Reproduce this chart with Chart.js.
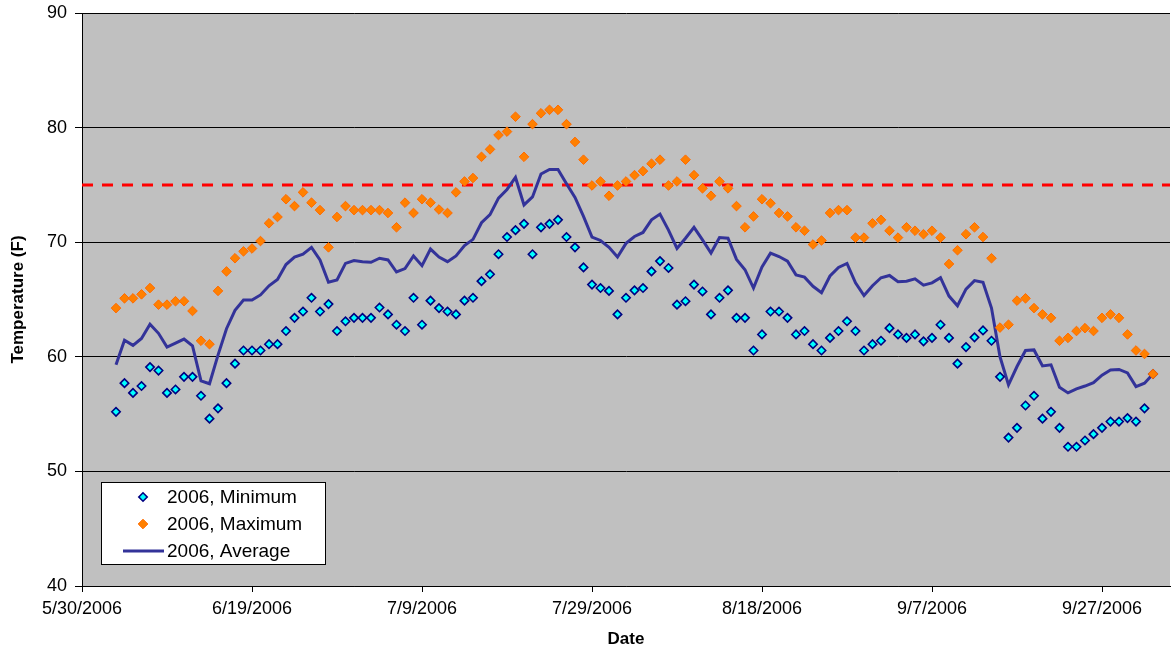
<!DOCTYPE html>
<html>
<head>
<meta charset="utf-8">
<title>Temperature 2006</title>
<script src="https://cdn.jsdelivr.net/npm/chart.js@4.4.1/dist/chart.umd.min.js"></script>
<style>
  html, body { margin: 0; padding: 0; background: #fff; }
  #wrap { width: 1172px; height: 650px; }
</style>
</head>
<body>
<div id="wrap"><canvas id="tempChart" width="1172" height="650"></canvas></div>
<script>
// x = days after 5/30/2006; one reading a day, the first one on 6/3/2006
const firstDay = 4;

const minTemps = [
    55.2, 57.7, 56.85, 57.45, 59.1, 58.8, 56.85, 57.15, 58.25, 58.25,
    56.6, 54.6, 55.5, 57.7, 59.4, 60.55, 60.55, 60.55, 61.1, 61.1,
    62.25, 63.4, 63.95, 65.15, 63.95, 64.6, 62.25, 63.1, 63.4, 63.4,
    63.4, 64.3, 63.7, 62.8, 62.25, 65.15, 62.8, 64.9, 64.25, 63.95,
    63.7, 64.9, 65.15, 66.6, 67.2, 68.95, 70.45, 71.05, 71.6, 68.95,
    71.3, 71.6, 71.95, 70.45, 69.55, 67.8, 66.3, 66.0, 65.75, 63.7,
    65.15, 65.8, 66.0, 67.45, 68.35, 67.75, 64.55, 64.85, 66.3, 65.7,
    63.7, 65.15, 65.8, 63.4, 63.4, 60.55, 61.95, 63.95, 63.95, 63.4,
    61.95, 62.25, 61.1, 60.55, 61.65, 62.25, 63.1, 62.25, 60.55, 61.1,
    61.4, 62.5, 61.95, 61.65, 61.95, 61.35, 61.65, 62.8, 61.65, 59.4,
    60.85, 61.7, 62.3, 61.4, 58.25, 52.95, 53.8, 55.75, 56.6, 54.6,
    55.2, 53.8, 52.15, 52.15, 52.7, 53.25, 53.8, 54.35, 54.35, 54.65,
    54.35, 55.5, 58.5
];

const maxTemps = [
    64.25, 65.1, 65.1, 65.45, 66.0, 64.55, 64.55, 64.85, 64.85, 64.0,
    61.4, 61.1, 65.75, 67.45, 68.6, 69.2, 69.45, 70.1, 71.65, 72.2,
    73.75, 73.15, 74.35, 73.45, 72.8, 69.55, 72.2, 73.15, 72.8, 72.8,
    72.8, 72.8, 72.55, 71.3, 73.45, 72.55, 73.75, 73.45, 72.85, 72.55,
    74.35, 75.3, 75.6, 77.45, 78.1, 79.35, 79.65, 80.95, 77.45, 80.3,
    81.25, 81.55, 81.55, 80.3, 78.75, 77.2, 74.95, 75.3, 74.05, 74.95,
    75.3, 75.85, 76.2, 76.85, 77.2, 74.95, 75.3, 77.2, 75.85, 74.7,
    74.05, 75.3, 74.7, 73.15, 71.3, 72.25, 73.75, 73.4, 72.55, 72.25,
    71.3, 71.0, 69.8, 70.15, 72.55, 72.8, 72.8, 70.4, 70.4, 71.65,
    71.95, 71.0, 70.4, 71.3, 71.0, 70.7, 71.0, 70.4, 68.1, 69.3,
    70.7, 71.3, 70.45, 68.6, 62.55, 62.8, 64.9, 65.1, 64.25, 63.7,
    63.4, 61.4, 61.65, 62.25, 62.5, 62.25, 63.4, 63.7, 63.4, 61.95,
    60.55, 60.25, 58.5
];

const avgTemps = [
    59.3, 61.45, 61.0, 61.6, 62.85, 62.05, 60.85, 61.2, 61.55, 60.95,
    57.9, 57.65, 60.15, 62.45, 64.05, 64.95, 64.95, 65.4, 66.2, 66.75,
    68.05, 68.7, 68.95, 69.55, 68.45, 66.5, 66.7, 68.15, 68.4, 68.3,
    68.25, 68.6, 68.45, 67.4, 67.7, 68.8, 67.95, 69.4, 68.7, 68.3,
    68.8, 69.7, 70.25, 71.7, 72.4, 73.85, 74.6, 75.65, 73.25, 73.95,
    75.95, 76.35, 76.35, 75.1, 73.9, 72.25, 70.45, 70.15, 69.55, 68.7,
    69.9, 70.5, 70.85, 71.95, 72.45, 71.05, 69.45, 70.35, 71.3, 70.2,
    69.05, 70.4, 70.35, 68.5, 67.6, 66.0, 67.85, 69.05, 68.75, 68.35,
    67.15, 66.95, 66.15, 65.6, 67.05, 67.8, 68.15, 66.45, 65.35, 66.2,
    66.9, 67.1, 66.55, 66.6, 66.8, 66.25, 66.45, 66.9, 65.3, 64.45,
    65.9, 66.65, 66.5, 64.25, 60.0, 57.55, 59.15, 60.55, 60.6, 59.2,
    59.3, 57.35, 56.85, 57.2, 57.45, 57.75, 58.4, 58.85, 58.9, 58.6,
    57.4, 57.7, 58.5
];

const limitTemp = 75;
const xRange = [0, 128];
const xTickDays = [0, 20, 40, 60, 80, 100, 120];
const xTickLabels = ['5/30/2006', '6/19/2006', '7/9/2006', '7/29/2006', '8/18/2006', '9/7/2006', '9/27/2006'];
const yRange = [40, 90];
const seriesNames = ['2006, Minimum', '2006, Maximum', '2006, Average'];

const FONT = "'Liberation Sans', Arial, sans-serif";

function toPoints(values) {
    return values.map((v, i) => ({ x: firstDay + i, y: v }));
}

const minStyle = { pointStyle: 'rectRot', radius: 4.2, fill: '#00FFFF', border: '#000080', borderWidth: 1.6 };
const maxStyle = { pointStyle: 'rectRot', radius: 4.8, fill: '#FF8000', border: '#FF6A00', borderWidth: 1 };
const avgColor = '#333399';

// grey plot area like the spreadsheet chart
const plotBackground = {
    id: 'plotBackground',
    beforeDraw(chart) {
        const { ctx, chartArea } = chart;
        ctx.save();
        ctx.fillStyle = '#C0C0C0';
        ctx.fillRect(chartArea.left, chartArea.top, chartArea.right - chartArea.left, chartArea.bottom - chartArea.top);
        ctx.restore();
    }
};

// legend box sitting inside the plot, bottom left
const boxLegend = {
    id: 'boxLegend',
    afterDraw(chart) {
        const { ctx, chartArea } = chart;
        const left = chartArea.left + 19;
        const top = chartArea.bottom - 104;
        ctx.save();
        ctx.fillStyle = '#FFFFFF';
        ctx.fillRect(left, top, 224, 82);
        ctx.strokeStyle = '#000000';
        ctx.lineWidth = 1;
        ctx.strokeRect(left + 0.5, top + 0.5, 224, 82);

        const rows = [top + 15, top + 42, top + 69];
        const mx = left + 42;
        [minStyle, maxStyle].forEach((s, i) => {
            ctx.fillStyle = s.fill;
            ctx.strokeStyle = s.border;
            ctx.lineWidth = s.borderWidth;
            Chart.helpers.drawPoint(ctx, { pointStyle: s.pointStyle, radius: s.radius, rotation: 0, borderWidth: s.borderWidth }, mx, rows[i]);
        });
        ctx.strokeStyle = avgColor;
        ctx.lineWidth = 3;
        ctx.beginPath();
        ctx.moveTo(left + 22, rows[2]);
        ctx.lineTo(left + 63, rows[2]);
        ctx.stroke();

        ctx.fillStyle = '#000000';
        ctx.font = '19px ' + FONT;
        ctx.textBaseline = 'middle';
        ctx.textAlign = 'left';
        seriesNames.forEach((name, i) => ctx.fillText(name, left + 66, rows[i] + 1));
        ctx.restore();
    }
};

new Chart(document.getElementById('tempChart'), {
    type: 'scatter',
    data: {
        datasets: [
            {
                label: seriesNames[1],
                data: toPoints(maxTemps),
                showLine: false,
                pointStyle: maxStyle.pointStyle,
                pointRadius: maxStyle.radius,
                backgroundColor: maxStyle.fill,
                borderColor: maxStyle.border,
                borderWidth: maxStyle.borderWidth
            },
            {
                label: seriesNames[0],
                data: toPoints(minTemps),
                showLine: false,
                pointStyle: minStyle.pointStyle,
                pointRadius: minStyle.radius,
                backgroundColor: minStyle.fill,
                borderColor: minStyle.border,
                borderWidth: minStyle.borderWidth
            },
            {
                label: seriesNames[2],
                data: toPoints(avgTemps),
                showLine: true,
                borderColor: avgColor,
                borderWidth: 3,
                pointRadius: 0,
                tension: 0
            },
            {
                label: 'limit',
                data: [{ x: xRange[0], y: limitTemp }, { x: xRange[1], y: limitTemp }],
                showLine: true,
                borderColor: '#FF0000',
                borderWidth: 3,
                borderDash: [11, 9],
                pointRadius: 0
            }
        ]
    },
    options: {
        responsive: false,
        animation: false,
        layout: { autoPadding: false, padding: { top: 13, right: 2, left: 0, bottom: 0 } },
        plugins: {
            legend: { display: false },
            tooltip: { enabled: false }
        },
        scales: {
            x: {
                type: 'linear',
                min: xRange[0],
                max: xRange[1],
                afterFit: (scale) => {
                    scale.height = 64;
                    scale.paddingLeft = 0;
                    scale.paddingRight = 0;
                },
                afterBuildTicks: (scale) => { scale.ticks = xTickDays.map(v => ({ value: v })); },
                grid: { drawOnChartArea: false, drawTicks: true, tickLength: 6, color: '#000000' },
                border: { color: '#000000', width: 1 },
                ticks: {
                    maxRotation: 0,
                    autoSkip: false,
                    padding: 6,
                    color: '#000000',
                    font: { family: FONT, size: 18 },
                    callback: (v) => xTickLabels[xTickDays.indexOf(v)]
                },
                title: {
                    display: true,
                    text: 'Date',
                    color: '#000000',
                    padding: 0,
                    font: { family: FONT, size: 17, weight: 'bold' }
                }
            },
            y: {
                min: yRange[0],
                max: yRange[1],
                afterFit: (scale) => {
                    scale.width = 82;
                    scale.paddingTop = 0;
                    scale.paddingBottom = 0;
                },
                grid: { color: '#000000', lineWidth: 1, tickLength: 7 },
                border: { color: '#000000', width: 1 },
                ticks: {
                    stepSize: 10,
                    padding: 8,
                    color: '#000000',
                    font: { family: FONT, size: 18 }
                },
                title: {
                    display: true,
                    text: 'Temperature (F)',
                    color: '#000000',
                    padding: { top: 8, bottom: 0 },
                    font: { family: FONT, size: 17, weight: 'bold' }
                }
            }
        }
    },
    plugins: [plotBackground, boxLegend]
});
</script>
</body>
</html>
